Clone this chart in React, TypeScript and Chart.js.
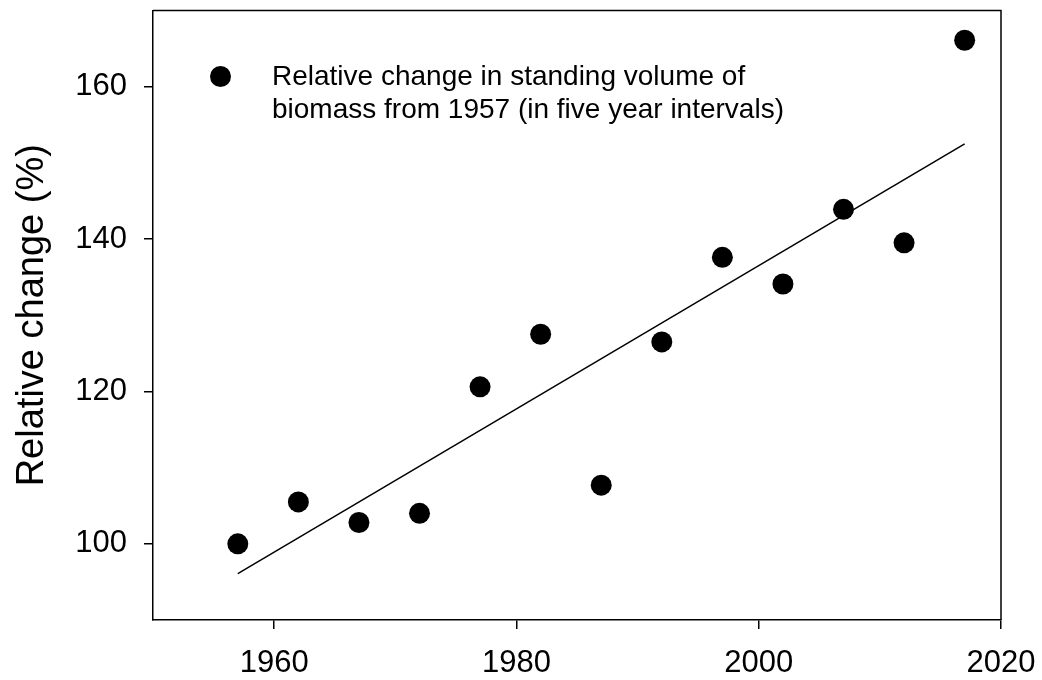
import React, { useEffect, useRef } from "react";
import { Chart, registerables } from "chart.js";

Chart.register(...registerables);

const years = [1957, 1962, 1967, 1972, 1977, 1982, 1987, 1992, 1997, 2002, 2007, 2012, 2017];
const relativeChange = [100.0, 105.5, 102.8, 104.0, 120.6, 127.5, 107.7, 126.5, 137.6, 134.1, 143.9, 139.5, 166.1];
const trendYears = [1957, 2017];
const trendValues = [96.1, 152.5];
const xTicks = [1960, 1980, 2000, 2020];
const yTicks = [100, 120, 140, 160];
const legendLines = [
  "Relative change in standing volume of",
  "biomass from 1957 (in five year intervals)",
];
const yTitle = "Relative change (%)";

const FONT = "'Liberation Sans', Arial, Helvetica, sans-serif";

export default function App() {
  const ref = useRef<HTMLCanvasElement>(null);

  useEffect(() => {
    document.body.style.margin = "0";
    const canvas = ref.current!;

    const framePlugin = {
      id: "frameAndLegend",
      afterDraw(chart: any) {
        const { ctx, chartArea: a } = chart;
        ctx.save();
        ctx.strokeStyle = "#000";
        ctx.lineWidth = 1.5;
        ctx.beginPath();
        ctx.moveTo(a.left, a.top);
        ctx.lineTo(a.right, a.top);
        ctx.lineTo(a.right, a.bottom);
        ctx.stroke();

        // legend
        ctx.fillStyle = "#000";
        ctx.beginPath();
        ctx.arc(a.left + 67.5, a.top + 66, 10.5, 0, Math.PI * 2);
        ctx.fill();
        ctx.font = `28px ${FONT}`;
        ctx.textBaseline = "alphabetic";
        ctx.textAlign = "left";
        ctx.fillText(legendLines[0], a.left + 119, a.top + 74.3);
        ctx.fillText(legendLines[1], a.left + 119, a.top + 107);
        ctx.restore();
      },
    };

    const chart = new Chart(canvas, {
      type: "scatter",
      data: {
        datasets: [
          {
            type: "scatter",
            data: years.map((x, i) => ({ x, y: relativeChange[i] })),
            pointRadius: 10.5,
            pointHoverRadius: 10.5,
            pointBackgroundColor: "#000",
            pointBorderColor: "#000",
            pointBorderWidth: 0,
          },
          {
            type: "line",
            data: trendYears.map((x, i) => ({ x, y: trendValues[i] })),
            borderColor: "#000",
            borderWidth: 1.5,
            pointRadius: 0,
            fill: false,
            showLine: true,
          } as any,
        ],
      },
      options: {
        animation: false,
        responsive: false,
        maintainAspectRatio: false,
        events: [],
        layout: { padding: { left: 0, top: 9, right: 41, bottom: 0 } },
        plugins: {
          legend: { display: false },
          tooltip: { enabled: false },
        },
        scales: {
          x: {
            type: "linear",
            min: 1950,
            max: 2020,
            afterBuildTicks: (s: any) => {
              s.ticks = xTicks.map((v) => ({ value: v }));
            },
            afterFit: (s: any) => {
              s.height = 60;
              s.paddingLeft = 0;
              s.paddingRight = 0;
              s.paddingTop = 0;
              s.paddingBottom = 0;
            },
            grid: {
              drawOnChartArea: false,
              drawTicks: true,
              tickLength: 9,
              color: "#000",
              lineWidth: 1.5,
            },
            border: { display: true, color: "#000", width: 1.5 },
            ticks: {
              color: "#000",
              font: { size: 31, family: FONT },
              padding: 16,
              maxRotation: 0,
              autoSkip: false,
              callback: (v: any) => String(v),
            },
          },
          y: {
            type: "linear",
            min: 90,
            max: 170,
            afterBuildTicks: (s: any) => {
              s.ticks = yTicks.map((v) => ({ value: v }));
            },
            afterFit: (s: any) => {
              s.width = 153;
              s.paddingLeft = 0;
              s.paddingRight = 0;
              s.paddingTop = 0;
              s.paddingBottom = 0;
            },
            grid: {
              drawOnChartArea: false,
              drawTicks: true,
              tickLength: 9,
              color: "#000",
              lineWidth: 1.5,
            },
            border: { display: true, color: "#000", width: 1.5 },
            ticks: {
              color: "#000",
              font: { size: 31, family: FONT },
              padding: 17,
              autoSkip: false,
              callback: (v: any) => String(v),
            },
            title: {
              display: true,
              text: yTitle,
              color: "#000",
              font: { size: 38, family: FONT },
              padding: { top: 10, bottom: 0 },
            },
          },
        },
      },
      plugins: [framePlugin],
    });

    return () => chart.destroy();
  }, []);

  return (
    <div style={{ position: "fixed", left: 0, top: 0, width: 1042, height: 680, background: "#fff" }}>
      <canvas ref={ref} width={1042} height={680} style={{ display: "block" }} />
    </div>
  );
}
